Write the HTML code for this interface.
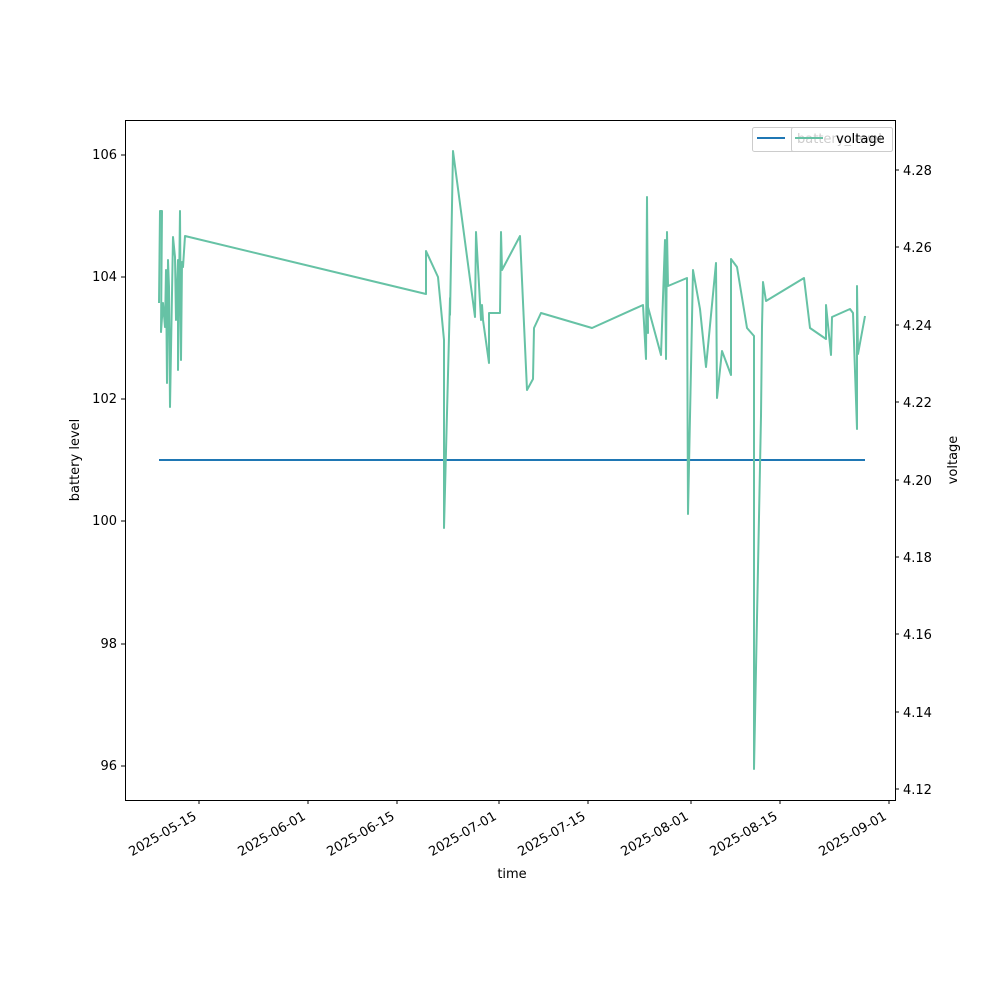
<!DOCTYPE html>
<html><head><meta charset="utf-8"><style>body{margin:0;background:#fff}</style></head><body>
<svg width="1000" height="1000" xmlns="http://www.w3.org/2000/svg" font-family="DejaVu Sans, Liberation Sans, sans-serif" font-size="13">
<rect width="1000" height="1000" fill="#fff"/>
<polyline fill="none" stroke="#1f77b4" stroke-width="2" points="159,460 865,460"/>
<polyline fill="none" stroke="#66c2a5" stroke-width="2" stroke-linejoin="round" points="159,303 160,211 162,211 161,332 163,303 165,327 166,270 167,383 168,260 169,287 170,407 173,237 175,257 176,320 178,260 178,370 180,211 181,360 182,262 183,267 185,236 426,294 426,251 438,277 444,340 444,528 450,298 450,315 453,151 475,317 476,232 481,320 482,305 483,320 489,363 489,313 500,313 501,232 502,270 520,236 527,390 533,379 534,328 541,313 592,328 643,305 646,359 647,197 648,333 647,223 648,307 661,355 665,240 666,359 667,232 668,286 687,278 688,514 693,270 700,309 706,367 716,263 717,398 722,351 731,375 731,259 737,267 747,328 754,336 754,769 761,416 762,327 763,282 766,301 804,278 810,328 826,339 826,305 831,355 832,317 850,309 853,313 857,429 857,286 858,354 865,316"/>
<rect x="125.5" y="120.5" width="770" height="680" fill="none" stroke="#000" stroke-width="1"/>
<g stroke="#000">
<line x1="125" y1="766" x2="121" y2="766"/><line x1="125" y1="644" x2="121" y2="644"/><line x1="125" y1="521" x2="121" y2="521"/><line x1="125" y1="399" x2="121" y2="399"/><line x1="125" y1="277" x2="121" y2="277"/><line x1="125" y1="155" x2="121" y2="155"/>
<line x1="895" y1="789" x2="899" y2="789"/><line x1="895" y1="712" x2="899" y2="712"/><line x1="895" y1="634" x2="899" y2="634"/><line x1="895" y1="557" x2="899" y2="557"/><line x1="895" y1="480" x2="899" y2="480"/><line x1="895" y1="402" x2="899" y2="402"/><line x1="895" y1="325" x2="899" y2="325"/><line x1="895" y1="247" x2="899" y2="247"/><line x1="895" y1="170" x2="899" y2="170"/>
<line x1="199" y1="800" x2="199" y2="804"/><line x1="308" y1="800" x2="308" y2="804"/><line x1="397" y1="800" x2="397" y2="804"/><line x1="499" y1="800" x2="499" y2="804"/><line x1="588" y1="800" x2="588" y2="804"/><line x1="691" y1="800" x2="691" y2="804"/><line x1="780" y1="800" x2="780" y2="804"/><line x1="889" y1="800" x2="889" y2="804"/>
</g>
<g text-anchor="end">
<text x="117" y="770">96</text><text x="117" y="648">98</text><text x="117" y="525">100</text><text x="117" y="403">102</text><text x="117" y="281">104</text><text x="117" y="159">106</text>
</g>
<g>
<text x="903" y="794">4.12</text><text x="903" y="717">4.14</text><text x="903" y="639">4.16</text><text x="903" y="562">4.18</text><text x="903" y="485">4.20</text><text x="903" y="407">4.22</text><text x="903" y="330">4.24</text><text x="903" y="252">4.26</text><text x="903" y="175">4.28</text>
</g>
<g text-anchor="end" dominant-baseline="hanging">
<text transform="translate(193,811) rotate(-30)">2025-05-15</text>
<text transform="translate(302,811) rotate(-30)">2025-06-01</text>
<text transform="translate(391,811) rotate(-30)">2025-06-15</text>
<text transform="translate(493,811) rotate(-30)">2025-07-01</text>
<text transform="translate(582,811) rotate(-30)">2025-07-15</text>
<text transform="translate(685,811) rotate(-30)">2025-08-01</text>
<text transform="translate(774,811) rotate(-30)">2025-08-15</text>
<text transform="translate(883,811) rotate(-30)">2025-09-01</text>
</g>
<text x="512" y="878" text-anchor="middle">time</text>
<text transform="translate(79,460) rotate(-90)" text-anchor="middle">battery level</text>
<text transform="translate(957,460) rotate(-90)" text-anchor="middle">voltage</text>
<rect x="752.5" y="127.5" width="140" height="24" rx="2" fill="#fff" fill-opacity="0.8" stroke="#ccc"/>
<line x1="757" y1="138" x2="785" y2="138" stroke="#1f77b4" stroke-width="2"/>
<text x="797" y="143">battery_level</text>
<rect x="791.5" y="127.5" width="101" height="24" rx="2" fill="#fff" fill-opacity="0.8" stroke="#ccc"/>
<line x1="795" y1="138" x2="823" y2="138" stroke="#66c2a5" stroke-width="2"/>
<text x="836" y="143">voltage</text>
</svg>
</body></html>
